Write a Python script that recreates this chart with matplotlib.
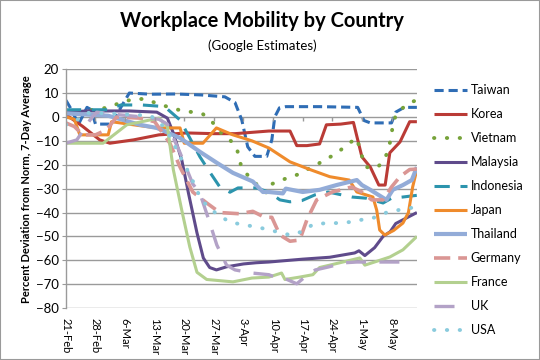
import matplotlib.pyplot as plt
from matplotlib.patches import Rectangle

plt.rcParams['font.family'] = ['Lato', 'DejaVu Sans']

# x is days since 21-Feb (2020)
tick_days = [0, 7, 14, 21, 28, 35, 42, 49, 56, 63, 70, 77]
tick_labels = ["21-Feb", "28-Feb", "6-Mar", "13-Mar", "20-Mar", "27-Mar",
               "3-Apr", "10-Apr", "17-Apr", "24-Apr", "1-May", "8-May"]

taiwan_x = [0, 1, 3, 5, 6, 7, 9, 11, 13, 15, 20, 26, 32, 37.6, 40, 41.6, 43, 44.7, 47.5, 48.7, 49.4, 50.5, 52, 60, 69, 70.5, 72, 77, 78, 80, 83]
taiwan_y = [7, 4, -3, 4, 3, -3, -3, -3, 4, 10, 9.5, 9.6, 9.2, 8.4, 6, -1.3, -12.5, -16.5, -16.5, -9.6, 0, 3.8, 4.3, 4.3, 4, -1.5, -2.5, -2.5, 2, 4, 4]

korea_x = [0, 4, 8, 10.4, 16, 22, 28.6, 35, 40, 48, 53, 54.6, 57, 60, 61.6, 65, 68, 70, 72, 74, 75.5, 76.6, 79, 81.3, 83]
korea_y = [1, -4, -9.6, -11, -9.6, -7.5, -6.7, -7, -7, -5.9, -5.9, -12, -12, -11.3, -3.3, -3, -2.3, -16.7, -21, -28.5, -28.5, -15, -10.5, -2, -2]

vietnam_x = [0, 7, 10, 13, 16, 18.7, 21, 25, 27.7, 30, 32.4, 34.8, 36.4, 38.8, 40.4, 41.5, 43.5, 46, 47.5, 48.2, 50, 52.5, 55, 57, 59, 61, 63, 65, 67, 68.8, 69.5, 70.3, 71, 73.5, 75, 76, 76.6, 77, 77.5, 78, 79.7, 81.8, 83]
vietnam_y = [2, 3, 4, 6, 7.5, 7.5, 6, 3.7, 2.5, 2, 1.2, -2.5, -6.3, -9.6, -13, -21, -25.5, -29.7, -31.8, -28.5, -27, -25.5, -24, -22, -20.5, -18, -16.3, -13.8, -11, -8.8, -13.4, -18, -21, -21.3, -18.8, -15, -11, -6.7, -2.5, 0.8, 3.8, 6.3, 7]

malaysia_x = [0, 5, 10, 15, 21.5, 24, 25.4, 27.4, 29, 31, 32.5, 34, 35.6, 38, 42, 45, 48, 56, 62.4, 68.3, 69.3, 70.7, 73, 75, 76.7, 78, 80.6, 83]
malaysia_y = [2, 2.5, 2.5, 2.5, 2, -0.5, -6.7, -18, -32, -48.5, -59, -63, -64, -62.7, -61.5, -61, -60.7, -59.5, -58.7, -56.9, -56, -58, -54.7, -50, -48, -44.6, -42.2, -40]

indonesia_x = [0, 5, 10, 13, 18, 22, 23.4, 27, 29.3, 31.7, 34, 36.4, 38.8, 40.7, 42.8, 45, 48, 50.6, 53, 55.8, 58.9, 62, 67.6, 71, 75, 77, 79.7, 83]
indonesia_y = [3, 3, 3, 5, 5, 4.5, 4.2, -1.3, -8.8, -16.7, -23, -29.3, -31.5, -29.7, -29.7, -29.7, -31.4, -34.7, -35.5, -35, -32.6, -31.4, -33.5, -34, -36, -34, -33.5, -32.8]

japan_x = [0, 2, 3.3, 8, 10, 10.8, 16, 21.5, 27, 28, 32.4, 35.6, 39.5, 44, 48, 53, 57.7, 62.4, 67, 68.8, 72.6, 73.5, 74.2, 75.4, 77.5, 79.7, 81, 82, 83]
japan_y = [0, -1, -7.5, -7.5, -7.5, -2, -3.3, -4.6, -4.6, -11, -11, -4.6, -7.5, -10, -13, -18.8, -22, -25, -26.4, -31.4, -33.5, -39, -47.3, -49.4, -47.5, -44.4, -40, -29.3, -22]

thailand_x = [0, 5, 10, 13, 17.5, 21.5, 27, 31.7, 35.7, 39.5, 44.2, 46.6, 48, 51.3, 52, 56, 60, 64, 68.8, 70, 72, 75.8, 77.3, 79.7, 81.8, 83]
thailand_y = [1.5, 1, 0.5, -1, -3.3, -4.6, -8.8, -14.6, -19.2, -23.4, -27, -31.4, -31.4, -32, -30, -31.4, -30.5, -28.5, -26.4, -28.5, -30.5, -34.7, -30.5, -28.5, -26.4, -21]

germany_x = [0, 2, 4, 7, 9.6, 12, 17.5, 21, 24.6, 27, 30, 33.3, 36.4, 41, 44.2, 47, 48.7, 50.6, 53, 55.3, 57, 59.3, 63, 67.6, 70, 72.3, 75, 77, 79, 81.3, 83]
germany_y = [-2.5, -4, -7.5, -7.5, -5.4, 0, -0.5, -2, -11, -21, -31.4, -36, -40, -40.5, -39.5, -42, -42, -49.4, -52, -51.5, -43, -34.7, -31.4, -29.3, -31.4, -34.7, -34.7, -29.3, -25, -22, -21.8]

france_x = [0, 4, 8.8, 14.4, 22, 24, 25.4, 27.4, 29.3, 31, 33.3, 39.5, 44, 48, 51, 51.8, 55.3, 58.4, 60, 64.8, 69.5, 70.7, 74.2, 76.6, 79.7, 83]
france_y = [-11, -11, -11, -3.3, -0.5, -4, -22, -39, -54.4, -65, -68, -69, -67.4, -67, -65.3, -68, -67, -66, -63, -61, -59, -62, -60, -58.6, -55.6, -50]

uk_x = [0, 2.6, 5.7, 7.3, 12, 18, 22, 24, 27, 30, 31.7, 33.6, 35.7, 38, 40, 44, 48, 49.4, 51, 54.6, 56.5, 59, 62, 66, 68.8, 71.4, 73.5, 80.5]
uk_y = [-11, -9.6, -1.3, 2, 1, 0, -1, -3, -15, -28, -32, -42, -53.6, -62, -64, -65.3, -66, -67, -67, -69.8, -67, -64, -62.8, -61, -60.7, -60.7, -60.7, -60.7]

usa_x = [0, 2.6, 5.3, 10, 15, 20, 22, 24, 25.4, 27.7, 29.3, 31.7, 33.6, 36, 38.8, 41.6, 45, 47.5, 49.8, 53, 55.8, 58.4, 61.7, 64.3, 67, 70, 72.6, 75.8, 78.5, 81.8, 83]
usa_y = [-3.3, -1.3, 1.7, 1.5, 1, 0.5, -2, -6, -11, -19, -24, -33.5, -37.7, -41, -44, -45, -46, -47, -48, -49.4, -48, -45, -44.4, -44.4, -44, -43, -42.3, -40, -39, -38, -37.5]

dot = (0, (0.1, 3.2))
series = [
    ("Taiwan", taiwan_x, taiwan_y, "#2F6DB5", (0, (3, 1.6)), 2.2, "butt"),
    ("Korea", korea_x, korea_y, "#BA3B36", "-", 2.2, "butt"),
    ("Vietnam", vietnam_x, vietnam_y, "#77A33A", dot, 2.8, "round"),
    ("Malaysia", malaysia_x, malaysia_y, "#5F4B8B", "-", 2.2, "butt"),
    ("Indonesia", indonesia_x, indonesia_y, "#2C94AD", (0, (5, 3.5)), 2.2, "butt"),
    ("Japan", japan_x, japan_y, "#EF8B2C", "-", 2.2, "butt"),
    ("Thailand", thailand_x, thailand_y, "#93ACD8", "-", 3.0, "butt"),
    ("Germany", germany_x, germany_y, "#DA9694", (0, (4.5, 2.2)), 2.6, "butt"),
    ("France", france_x, france_y, "#B3D08F", "-", 2.2, "butt"),
    ("UK", uk_x, uk_y, "#B3A2C7", (0, (6, 4)), 2.4, "butt"),
    ("USA", usa_x, usa_y, "#8ACBDD", dot, 2.8, "round"),
]

fig = plt.figure(figsize=(5.4, 3.6), dpi=100)
ax = fig.add_axes([0.122, 0.144, 0.65, 0.664])

for name, xs, ys, col, ls, lw, cap in series:
    ax.plot(xs, ys, color=col, linestyle=ls, linewidth=lw, label=name,
            dash_capstyle=cap, solid_capstyle="butt")

ax.set_xlim(0, 83)
ax.set_ylim(-80, 20)
ax.set_yticks(range(-80, 21, 10))
ax.yaxis.grid(True, color="#9A9A9A", linewidth=1.0)
ax.set_axisbelow(True)
for s in ["top", "right", "bottom"]:
    ax.spines[s].set_visible(False)
ax.spines["left"].set_color("#9A9A9A")
ax.spines["left"].set_linewidth(1.0)
ax.tick_params(axis="y", length=3, color="#9A9A9A", labelsize=9.5, pad=2)
ax.set_xticks(tick_days)
ax.set_xticklabels(tick_labels, rotation=270, fontsize=8)
ax.tick_params(axis="x", length=0, pad=7)
# small category ticks on the zero line
ax.vlines(tick_days[1:], -1.6, 0, color="#9A9A9A", linewidth=1.0)

ax.set_ylabel("Percent Deviation from Norm, 7-Day Average", fontsize=8,
              fontweight="bold", labelpad=3)

fig.text(0.485, 0.943, "Workplace Mobility by Country", ha="center",
         va="center", fontsize=14.5, fontweight="bold")
fig.text(0.485, 0.873, "(Google Estimates)", ha="center", va="center",
         fontsize=9.5)

fig.legend(loc="upper left", bbox_to_anchor=(0.795, 0.78), frameon=False,
           fontsize=9, handlelength=2.6, labelspacing=0.96, handletextpad=0.3,
           borderaxespad=0)

fig.patches.append(Rectangle((0, 0), 1, 1, transform=fig.transFigure,
                             fill=False, edgecolor="#9A9A9A", linewidth=1.5))

fig.savefig("out.png", dpi=100)
